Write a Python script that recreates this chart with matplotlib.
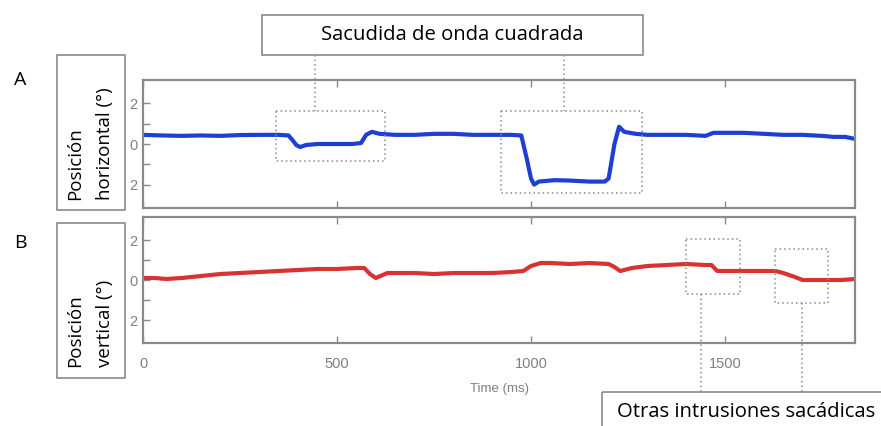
import numpy as np
import matplotlib
matplotlib.use("Agg")
import matplotlib.pyplot as plt
from matplotlib.patches import Rectangle
from matplotlib.lines import Line2D
from matplotlib.transforms import Affine2D

# Posicion horizontal (trazo azul)
t_h = [0, 50, 100, 150, 200, 250, 300, 350, 375, 385, 395, 405, 420, 450, 500,
       540, 562, 575, 590, 610, 650, 700, 750, 800, 850, 900, 950, 975, 990,
       1000, 1008, 1020, 1060, 1100, 1150, 1190, 1200, 1215, 1227, 1240, 1270,
       1300, 1350, 1400, 1450, 1470, 1500, 1550, 1600, 1650, 1700, 1750, 1780,
       1810, 1835]
pos_h = [0.45, 0.42, 0.40, 0.42, 0.40, 0.44, 0.45, 0.45, 0.42, 0.2, -0.05, -0.15,
         -0.05, 0.0, 0.0, 0.0, 0.05, 0.45, 0.6, 0.5, 0.45, 0.45, 0.5, 0.5, 0.45,
         0.45, 0.45, 0.42, -0.8, -1.7, -2.0, -1.85, -1.78, -1.8, -1.85, -1.85,
         -1.7, 0.0, 0.85, 0.6, 0.5, 0.45, 0.45, 0.45, 0.4, 0.55, 0.55, 0.55, 0.5,
         0.45, 0.45, 0.4, 0.35, 0.35, 0.25]

# Posicion vertical (trazo rojo)
t_v = [0, 30, 60, 100, 150, 200, 250, 300, 350, 400, 450, 500, 550, 570, 585,
       600, 630, 700, 750, 800, 850, 900, 950, 980, 1000, 1025, 1050, 1100, 1150,
       1200, 1215, 1230, 1260, 1300, 1350, 1400, 1450, 1465, 1480, 1500, 1550,
       1600, 1630, 1650, 1680, 1700, 1750, 1800, 1835]
pos_v = [0.1, 0.1, 0.05, 0.1, 0.2, 0.3, 0.35, 0.4, 0.45, 0.5, 0.55, 0.55, 0.6,
         0.6, 0.3, 0.1, 0.35, 0.35, 0.3, 0.35, 0.35, 0.35, 0.4, 0.45, 0.7, 0.85,
         0.85, 0.8, 0.85, 0.8, 0.65, 0.45, 0.6, 0.7, 0.75, 0.8, 0.75, 0.75, 0.45,
         0.45, 0.45, 0.45, 0.45, 0.35, 0.15, 0.0, 0.0, 0.0, 0.05]

x_ticks = [0, 500, 1000, 1500]
y_ticks = [-2, -1, 0, 1, 2]
y_tick_labels = ["2", "", "0", "", "2"]

W, H = 881, 426
fig = plt.figure(figsize=(W / 100, H / 100), dpi=100)
px = Affine2D().scale(1 / W, -1 / H).translate(0, 1) + fig.transFigure

gris = "#8a8a8a"
ax1 = fig.add_axes([143 / W, 1 - 208 / H, 712 / W, 128 / H])
ax2 = fig.add_axes([143 / W, 1 - 343 / H, 712 / W, 126 / H])

ax1.plot(t_h, pos_h, color="#1f3fd2", lw=3, solid_joinstyle="round")
ax2.plot(t_v, pos_v, color="#d83232", lw=3, solid_joinstyle="round")

for ax in (ax1, ax2):
    ax.set_xlim(0, 1835)
    ax.set_ylim(-3.15, 3.15)
    ax.set_xticks(x_ticks)
    ax.set_yticks(y_ticks)
    ax.set_yticklabels(y_tick_labels)
    ax.tick_params(direction="in", length=5, width=1, color=gris, labelcolor="#808080",
                   top=True, labelsize=10.5, pad=4)
    ax.tick_params(axis="x", pad=10)
    for lab in ax.get_yticklabels() + ax.get_xticklabels():
        lab.set_family("Liberation Sans")
    for s in ax.spines.values():
        s.set_color(gris)
        s.set_linewidth(1.6)
ax1.tick_params(labelbottom=False)
ax2.set_xlabel("Time (ms)", color="#808080", fontsize=9.5, family="Liberation Sans", labelpad=9)

fuente = "Open Sans"

def caja(x, y, w, h, **kw):
    fig.add_artist(Rectangle((x, y), w, h, transform=px, fill=False, **kw))

def linea(xs, ys, **kw):
    fig.add_artist(Line2D(xs, ys, transform=px, **kw))

# cajas de texto
caja(262, 15, 381, 40, ec=gris, lw=1.2)
fig.text(452 / W, 1 - 35 / H, "Sacudida de onda cuadrada", ha="center", va="center",
         fontsize=14.6, family=fuente)
caja(602, 392, 290, 40, ec=gris, lw=1.2, clip_on=False)
fig.text(746 / W, 1 - 412 / H, "Otras intrusiones sacádicas", ha="center", va="center",
         fontsize=14.6, family=fuente)

caja(57, 55, 68, 155, ec=gris, lw=1.2)
fig.text(75 / W, 1 - 200 / H, "Posición", rotation=90, ha="center", va="bottom",
         fontsize=13.5, family=fuente)
fig.text(105 / W, 1 - 200 / H, "horizontal (°)", rotation=90, ha="center", va="bottom",
         fontsize=13.5, family=fuente)
caja(57, 223, 68, 155, ec=gris, lw=1.2)
fig.text(75 / W, 1 - 367 / H, "Posición", rotation=90, ha="center", va="bottom",
         fontsize=13.5, family=fuente)
fig.text(105 / W, 1 - 367 / H, "vertical (°)", rotation=90, ha="center", va="bottom",
         fontsize=13.5, family=fuente)

fig.text(20 / W, 1 - 80 / H, "A", ha="center", va="center", fontsize=14, family=fuente)
fig.text(20 / W, 1 - 243 / H, "B", ha="center", va="center", fontsize=14, family=fuente)

# recuadros punteados y conectores
punt = dict(ec=gris, lw=1.1, ls=(0, (1, 2)))
caja(276, 111, 109, 50, **punt)
caja(501, 111, 141, 82, **punt)
caja(686, 239, 54, 55, **punt)
caja(775, 249, 53, 54, **punt)
lpunt = dict(color=gris, lw=1.1, ls=(0, (1, 2)))
linea([315, 315], [55, 111], **lpunt)
linea([564, 564], [55, 111], **lpunt)
linea([701, 701], [294, 392], **lpunt)
linea([802, 802], [303, 392], **lpunt)

fig.savefig("out.png", dpi=100)
